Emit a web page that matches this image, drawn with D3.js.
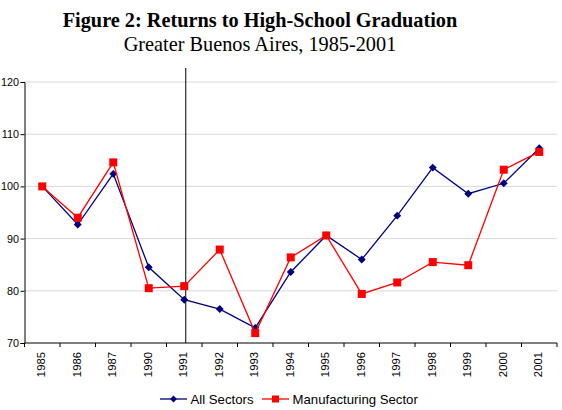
<!DOCTYPE html>
<html>
<head>
<meta charset="utf-8">
<script src="https://cdn.jsdelivr.net/npm/d3@7"></script>
<style>
body { margin: 0; background: #fff; }
svg { display: block; }
</style>
</head>
<body>
<script>
const years = ["1985", "1986", "1987", "1990", "1991", "1992", "1993", "1994",
    "1995", "1996", "1997", "1998", "1999", "2000", "2001"];
const allSectors = [100, 92.7, 102.4, 84.5, 78.3, 76.5, 72.9, 83.6, 90.6, 86, 94.4, 103.6, 98.6, 100.6, 107.3];
const manufacturing = [100, 94, 104.6, 80.5, 80.9, 87.9, 71.9, 86.4, 90.6, 79.4, 81.6, 85.5, 84.9, 103.2, 106.6];
const yTicks = [70, 80, 90, 100, 110, 120];
const markerYear = "1991";

const width = 562, height = 410;
const m = {left: 24.5, right: 5, top: 82, bottom: 67};

const svg = d3.select("body").append("svg")
    .attr("width", width)
    .attr("height", height);

// titles
svg.append("text")
    .attr("x", 260).attr("y", 27)
    .attr("text-anchor", "middle")
    .style("font-family", "'Liberation Serif', 'Times New Roman', serif")
    .style("font-weight", "bold")
    .style("font-size", "20.3px")
    .text("Figure 2: Returns to High-School Graduation");
svg.append("text")
    .attr("x", 260).attr("y", 51)
    .attr("text-anchor", "middle")
    .style("font-family", "'Liberation Serif', 'Times New Roman', serif")
    .style("font-size", "20.3px")
    .text("Greater Buenos Aires, 1985-2001");

const x = d3.scaleBand()
    .domain(years)
    .range([m.left, width - m.right]);

const y = d3.scaleLinear()
    .domain([70, 120])
    .range([height - m.bottom, m.top]);

// grid
svg.append("g")
    .selectAll("line")
    .data(yTicks.slice(1))
    .enter()
    .append("line")
        .attr("x1", m.left).attr("x2", width - m.right)
        .attr("y1", d => y(d)).attr("y2", d => y(d))
        .attr("stroke", "#d9d9d9")
        .attr("stroke-width", 1);

// y axis
const yAxis = svg.append("g")
    .attr("transform", `translate(${m.left},0)`)
    .call(d3.axisLeft(y).tickValues(yTicks).tickSize(4).tickPadding(1.5));
yAxis.select(".domain").attr("stroke", "#000");
yAxis.selectAll("text")
    .style("font-family", "'Liberation Sans', Arial, sans-serif")
    .style("font-size", "10.8px")
    .attr("fill", "#000");

// x axis with ticks on category boundaries
const xg = svg.append("g")
    .attr("transform", `translate(0,${height - m.bottom})`);
xg.append("line")
    .attr("x1", m.left).attr("x2", width - m.right)
    .attr("stroke", "#000");
xg.selectAll(".tk")
    .data(years.concat(["end"]))
    .enter()
    .append("line")
        .attr("class", "tk")
        .attr("x1", (d, i) => m.left + i * x.step())
        .attr("x2", (d, i) => m.left + i * x.step())
        .attr("y1", 0).attr("y2", 4)
        .attr("stroke", "#000");
xg.selectAll("text")
    .data(years)
    .enter()
    .append("text")
        .attr("transform", d => `translate(${x(d) + x.bandwidth() / 2 + 3},9) rotate(-90)`)
        .attr("text-anchor", "end")
        .style("font-family", "'Liberation Sans', Arial, sans-serif")
        .style("font-size", "11.3px")
        .text(d => d);

// vertical marker line
svg.append("line")
    .attr("x1", x(markerYear) + x.bandwidth() / 2 + 1.5)
    .attr("x2", x(markerYear) + x.bandwidth() / 2 + 1.5)
    .attr("y1", y(120) - 14).attr("y2", y(70))
    .attr("stroke", "#000")
    .attr("stroke-width", 1);

const cx = (d, i) => x(years[i]) + x.bandwidth() / 2;
const line = d3.line().x(cx).y(d => y(d));

// all sectors
svg.append("path")
    .datum(allSectors)
    .attr("fill", "none")
    .attr("stroke", "#000080")
    .attr("stroke-width", 1.3)
    .attr("d", line);
svg.append("g")
    .selectAll("path")
    .data(allSectors)
    .enter()
    .append("path")
        .attr("d", d3.symbol().type(d3.symbolDiamond2).size(40))
        .attr("transform", (d, i) => `translate(${cx(d, i)},${y(d)})`)
        .attr("fill", "#000080");

// manufacturing
svg.append("path")
    .datum(manufacturing)
    .attr("fill", "none")
    .attr("stroke", "#ff0000")
    .attr("stroke-width", 1.3)
    .attr("d", line);
svg.append("g")
    .selectAll("rect")
    .data(manufacturing)
    .enter()
    .append("rect")
        .attr("x", (d, i) => cx(d, i) - 4)
        .attr("y", d => y(d) - 4)
        .attr("width", 8).attr("height", 8)
        .attr("fill", "#ff0000");

// legend
const legend = svg.append("g").attr("transform", "translate(0,399)");
const items = [
    {name: "All Sectors", color: "#000080", x0: 160, shape: "diamond"},
    {name: "Manufacturing Sector", color: "#ff0000", x0: 262, shape: "square"}
];
items.forEach(it => {
    legend.append("line")
        .attr("x1", it.x0).attr("x2", it.x0 + 27)
        .attr("stroke", it.color).attr("stroke-width", 1.3);
    if (it.shape === "diamond") {
        legend.append("path")
            .attr("d", d3.symbol().type(d3.symbolDiamond2).size(30))
            .attr("transform", `translate(${it.x0 + 13.5},0)`)
            .attr("fill", it.color);
    } else {
        legend.append("rect")
            .attr("x", it.x0 + 10).attr("y", -3.5)
            .attr("width", 7).attr("height", 7)
            .attr("fill", it.color);
    }
    legend.append("text")
        .attr("x", it.x0 + 30.5).attr("y", 4.7)
        .style("font-family", "'Liberation Sans', Arial, sans-serif")
        .style("font-size", "13.2px")
        .text(it.name);
});
</script>
</body>
</html>
